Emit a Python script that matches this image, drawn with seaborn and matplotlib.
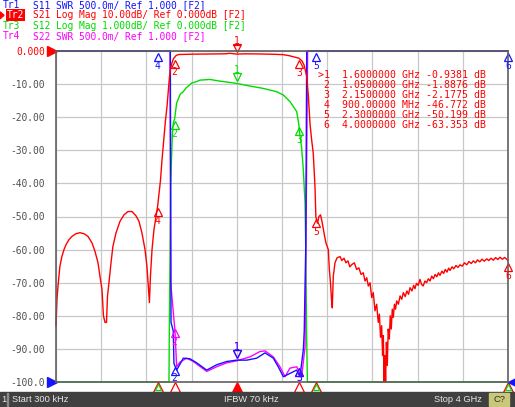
import numpy as np
import seaborn as sns
import matplotlib
matplotlib.use('Agg')
import matplotlib.pyplot as plt
from matplotlib.patches import Rectangle, Polygon

# VNA screen, 4 traces on one grid.
W, H = 515, 407
start_mhz, stop_mhz = 0.3, 4000.0

# Tr2 S21 Log Mag (dB), 10 dB/div, ref 0 dB at top line
s21_freq = [0.3, 9, 18, 35, 53, 71, 89, 115, 142, 177, 212, 248, 283, 319, 345, 372, 389, 407,
            420, 434, 447, 456, 469, 487, 504, 531, 566, 602, 637, 673, 708, 735, 761, 788, 805,
            819, 827, 836, 850, 867, 885, 900, 912, 925, 938, 956, 969, 982, 994, 1004, 1013,
            1027, 1040, 1050, 1062, 1080, 1097, 1230, 1363, 1496, 1540, 1600, 1673, 1805, 1938,
            2009, 2062, 2106, 2150, 2177, 2195, 2208, 2219, 2233, 2248, 2263, 2277, 2292, 2300,
            2314, 2327, 2341, 2354, 2372, 2389, 2410, 2419, 2429, 2438, 2445, 2454, 2469, 2487,
            2513, 2530, 2549, 2566, 2584, 2600, 2619, 2640, 2661, 2680, 2700, 2719, 2735, 2750,
            2764, 2779, 2794, 2808, 2823, 2838, 2852, 2862, 2872, 2882, 2890, 2897, 2903, 2910,
            2917, 2924, 2932, 2940, 2950, 2958, 2967, 2976, 2985, 2995, 3005, 3015, 3030, 3045,
            3060, 3074, 3090, 3105, 3120, 3133, 3150, 3165, 3177, 3190, 3205, 3221, 3235, 3249,
            3265, 3280, 3295, 3310, 3325, 3340, 3355, 3370, 3385, 3398, 3415, 3430, 3445, 3460,
            3475, 3487, 3505, 3520, 3540, 3557, 3575, 3595, 3615, 3635, 3655, 3675, 3693, 3712,
            3730, 3750, 3770, 3790, 3812, 3830, 3850, 3870, 3890, 3910, 3929, 3950, 3970, 3985,
            4000]
s21_db = [-83, -75, -71, -65, -62, -60, -58.5, -57, -56, -55.2, -54.9, -55.2, -56, -58, -60.5,
          -64, -68, -72, -80, -82, -82, -74, -70, -64, -59, -55, -51.5, -49.5, -48.5, -48.5,
          -49.8, -51.5, -55, -60, -65, -72, -76, -68, -60, -54, -50, -46.8, -43, -39, -33, -26,
          -21, -17, -12.3, -8, -5.5, -3.5, -2.3, -1.89, -1.4, -1.1, -1.05, -0.95, -0.9, -0.85,
          -0.7, -0.94, -0.85, -0.9, -1.0, -1.1, -1.4, -1.8, -2.18, -3.0, -4.2, -6, -7.8, -13.3,
          -22, -27, -31, -41, -50.2, -52, -50, -49.5, -51.5, -55, -58, -60, -66, -70, -75, -77.6,
          -68, -64, -62.5, -62.1, -63.3, -62.6, -64.0, -63.4, -65.2, -64.5, -64.0, -66.0, -65.5,
          -67.5, -67.0, -69.5, -68.5, -71.0, -70.0, -74.5, -73.0, -78.5, -76.5, -82.0, -79.5,
          -86.5, -83.0, -92.0, -86.0, -100.0, -92.0, -100.0, -88.0, -95.0, -84.0, -87.0, -80.0,
          -84.0, -78.0, -80.5, -76.5, -78.0, -75.5, -76.5, -74.0, -75.0, -73.0, -74.2, -72.5,
          -73.5, -71.5, -72.5, -70.8, -71.8, -70.2, -70.8, -69.0, -70.5, -71.0, -69.5, -70.0,
          -68.8, -69.5, -68.0, -68.8, -67.5, -68.2, -67.0, -67.8, -66.5, -67.2, -66.0, -66.8,
          -65.6, -66.3, -65.2, -65.8, -64.8, -65.4, -64.6, -65.0, -64.0, -64.6, -63.6, -64.2,
          -63.4, -64.0, -63.1, -63.7, -62.9, -63.5, -62.8, -63.3, -62.6, -63.2, -62.4, -63.0,
          -62.3, -62.9, -62.4, -62.8, -63.35]

# Tr3 S12 Log Mag (dB), 1 dB/div, ref 0 dB at top line
s12_freq = [0.3, 1000, 1004, 1010, 1015, 1030, 1038, 1050, 1068, 1100, 1127, 1150, 1201, 1239,
            1274, 1363, 1451, 1540, 1600, 1717, 1834, 1953, 2012, 2071, 2130, 2150, 2153, 2173,
            2189, 2204, 2210, 2218, 2225, 4000]
s12_db = [-10.0, -10.0, -8.0, -6.0, -4.0, -2.5, -2.18, -2.05, -1.57, -1.3, -1.23, -1.12, -0.97,
          -0.93, -0.88, -0.86, -0.91, -0.95, -0.98, -1.06, -1.13, -1.23, -1.33, -1.53, -1.83,
          -2.24, -2.39, -2.89, -3.6, -4.6, -5.9, -8.6, -10.0, -10.0]

# Tr1 S11 SWR, 0.5/div, ref 1.000 at bottom line
s11_freq = [0.3, 1012, 1018, 1038, 1044, 1068, 1127, 1186, 1245, 1334, 1422, 1511, 1599, 1688,
            1776, 1850, 1923, 1967, 2012, 2071, 2130, 2159, 2189, 2197, 2210, 2219, 4000]
s11_swr = [6.0, 6.0, 1.9, 1.77, 1.28, 1.18, 1.36, 1.35, 1.29, 1.18, 1.26, 1.31, 1.33, 1.33,
           1.36, 1.44, 1.36, 1.23, 1.08, 1.13, 1.18, 1.08, 1.49, 1.77, 3.0, 6.0, 6.0]

# Tr4 S22 SWR, 0.5/div, ref 1.000 at bottom line
s22_freq = [0.3, 1009, 1015, 1053, 1068, 1097, 1157, 1215, 1334, 1422, 1511, 1599, 1717, 1805,
            1850, 1923, 1982, 2027, 2071, 2130, 2174, 2204, 2227, 4000]
s22_swr = [6.0, 6.0, 2.5, 1.77, 1.23, 1.30, 1.36, 1.31, 1.16, 1.23, 1.29, 1.32, 1.38, 1.46,
           1.47, 1.38, 1.23, 1.08, 1.21, 1.23, 1.08, 1.53, 6.0, 6.0]

# markers
marker_num = [1, 2, 3, 4, 5, 6]
marker_freq = [1600, 1050, 2150, 900, 2300, 4000]
marker_s21 = [-0.9381, -1.8876, -2.1775, -46.772, -50.199, -63.353]
marker_stim = ['1.6000000 GHz', '1.0500000 GHz', '2.1500000 GHz', '900.00000 MHz',
               '2.3000000 GHz', '4.0000000 GHz']
marker_resp = ['-0.9381 dB', '-1.8876 dB', '-2.1775 dB', '-46.772 dB', '-50.199 dB', '-63.353 dB']

ytick_vals = [0, -10, -20, -30, -40, -50, -60, -70, -80, -90, -100]
ytick_text = ['0.000', '-10.00', '-20.00', '-30.00', '-40.00', '-50.00', '-60.00', '-70.00',
              '-80.00', '-90.00', '-100.0']

RED, BLUE, GREEN, MAG = '#ff0000', '#1414ff', '#00dc00', '#ff00ff'
MONO = 'DejaVu Sans Mono'
FS = 6.9

sns.set_style('white')
plt.rcParams['font.family'] = ['DejaVu Sans']


def on_grid_db(v, per_div):
    # dB trace with ref 0 at the top line
    return np.clip(np.asarray(v) / per_div * 10, -100, 0)


def on_grid_swr(v, per_div):
    # SWR trace with ref 1.000 at the bottom line
    return np.clip(-100 + (np.asarray(v) - 1.0) / per_div * 10, -100, 0)


def fig_xy(x, y):
    return x / W, 1 - y / H


fig = plt.figure(figsize=(W / 100, H / 100), dpi=100)
ax = fig.add_axes([56 / W, 25 / H, 452 / W, 331 / H])
ax.set_facecolor('white')

# grid
ax.set_xlim(start_mhz, stop_mhz)
ax.set_ylim(-100, 0)
ax.set_xticks(np.linspace(start_mhz, stop_mhz, 11))
ax.set_xticklabels([])
ax.set_yticks(ytick_vals)
ax.set_yticklabels(ytick_text, family=MONO, fontsize=FS)
for lab in ax.get_yticklabels():
    lab.set_color('#505050')
ax.get_yticklabels()[0].set_color(RED)
ax.tick_params(length=0, pad=8)
ax.grid(True, color='#c8c8c8', lw=0.9)
for s in ax.spines.values():
    s.set_color('#606060')
    s.set_linewidth(1.2)

# traces
traces = [
    (s12_freq, on_grid_db(s12_db, 1.0), GREEN),
    (s22_freq, on_grid_swr(s22_swr, 0.5), MAG),
    (s11_freq, on_grid_swr(s11_swr, 0.5), BLUE),
    (s21_freq, on_grid_db(s21_db, 10.0), RED),
]
for f, v, c in traces:
    sns.lineplot(x=f, y=v, color=c, lw=1.0, ax=ax, estimator=None, sort=False)
    ax.lines[-1].set_clip_on(False)


def trace_marker(f, y, num, color, down=False, underline=False):
    if down:
        ty, ly, m = y + 1.9, y + 4.1, 'v'
    else:
        # markers sitting on the bottom line stay inside the grid
        ty, ly, m = max(y - 1.9, -97.0), max(y - 4.6, -98.8), '^'
    ax.plot([f], [ty], marker=m, ms=5.5, mfc='none', mec=color, mew=0.9, clip_on=False)
    ax.text(f, ly, str(num), color=color, family=MONO, fontsize=FS, ha='center',
            va='center', clip_on=False)
    if underline:
        ax.plot([f - 30, f + 30], [ly - 1.4, ly - 1.4], color=color, lw=0.9, clip_on=False)


def value_at(f_list, v_list, f):
    return float(np.interp(f, f_list, v_list))


g12 = on_grid_db(s12_db, 1.0)
g11 = on_grid_swr(s11_swr, 0.5)
g22 = on_grid_swr(s22_swr, 0.5)

# marker symbols on traces
for n, f in zip(marker_num[:3], marker_freq[:3]):
    trace_marker(f, value_at(s22_freq, g22, f), n, MAG, down=(n == 1))
for n, f in zip(marker_num, marker_freq):
    trace_marker(f, value_at(s11_freq, g11, f), n, BLUE, down=(n == 1))
for n, f in zip(marker_num[:3], marker_freq[:3]):
    trace_marker(f, value_at(s12_freq, g12, f), n, GREEN, down=(n == 1))
for n, f, v in zip(marker_num, marker_freq, marker_s21):
    trace_marker(f, v, n, RED, down=(n == 1), underline=(n == 1))

# stimulus markers under the grid
for n, f in zip(marker_num, marker_freq):
    ax.plot([f], [-101.4], marker='^', ms=7, mfc=RED if n == 1 else 'none', mec=RED,
            mew=0.9, clip_on=False)
    if n in (4, 5, 6):
        ax.plot([f], [-101.6], marker='^', ms=4, mfc='none', mec=GREEN, mew=0.8, clip_on=False)

# reference level arrows
ax.plot([-35], [0], marker='>', ms=7, color=RED, clip_on=False)
ax.plot([-35], [-100], marker='>', ms=7, color=BLUE, clip_on=False)
ax.plot([4035], [-100], marker='<', ms=6, color=BLUE, clip_on=False)

# header lines
head = [
    ('Tr1', 'S11 SWR 500.0m/ Ref 1.000 [F2]', BLUE),
    ('Tr2', 'S21 Log Mag 10.00dB/ Ref 0.000dB [F2]', RED),
    ('Tr3', 'S12 Log Mag 1.000dB/ Ref 0.000dB [F2]', GREEN),
    ('Tr4', 'S22 SWR 500.0m/ Ref 1.000 [F2]', MAG),
]
for i, (tr, rest, c) in enumerate(head):
    y = 5 + 10.3 * i
    if tr == 'Tr2':
        fig.text(*fig_xy(7, y), tr, color='white', family=MONO, fontsize=FS, va='center',
                 bbox=dict(boxstyle='square,pad=0.12', fc=RED, ec='none'))
        arrow = [fig_xy(0, y - 3.5), fig_xy(4, y), fig_xy(0, y + 3.5)]
        fig.add_artist(Polygon(arrow, closed=True, color=RED, transform=fig.transFigure))
    else:
        fig.text(*fig_xy(3, y), tr, color=c, family=MONO, fontsize=FS, va='center')
    fig.text(*fig_xy(33, y), rest, color=c, family=MONO, fontsize=FS, va='center')

# marker readout table
for i, (n, st, rs) in enumerate(zip(marker_num, marker_stim, marker_resp)):
    pre = '>' if n == 1 else ' '
    line = f'{pre}{n}  {st} {rs}'
    fig.text(*fig_xy(318, 75 + 9.9 * i), line, color=RED, family=MONO, fontsize=7.1,
             va='center')

# status bar
fig.add_artist(Rectangle(fig_xy(0, H), 1, 15 / H, color='#404040', transform=fig.transFigure,
                         zorder=10))
fig.add_artist(Rectangle(fig_xy(489, 406), 20 / W, 13 / H, color='#c8c878',
                         transform=fig.transFigure, zorder=11))
fig.add_artist(Rectangle(fig_xy(7, 406), 1 / W, 13 / H, color='#8a8a8a',
                         transform=fig.transFigure, zorder=11))
bar = dict(fontsize=6.7, family='Liberation Sans', va='center', zorder=12)
fig.text(*fig_xy(1.5, 400), '1', color='#e8e8e8', **bar)
fig.text(*fig_xy(12, 400), 'Start 300 kHz', color='#e8e8e8', **bar)
fig.text(*fig_xy(251, 400), 'IFBW 70 kHz', color='#e8e8e8', ha='center', **bar)
fig.text(*fig_xy(434, 400), 'Stop 4 GHz', color='#e8e8e8', **bar)
fig.text(*fig_xy(499, 400), 'C?', color='#303030', ha='center', **bar)

fig.savefig('out.png', dpi=100)
